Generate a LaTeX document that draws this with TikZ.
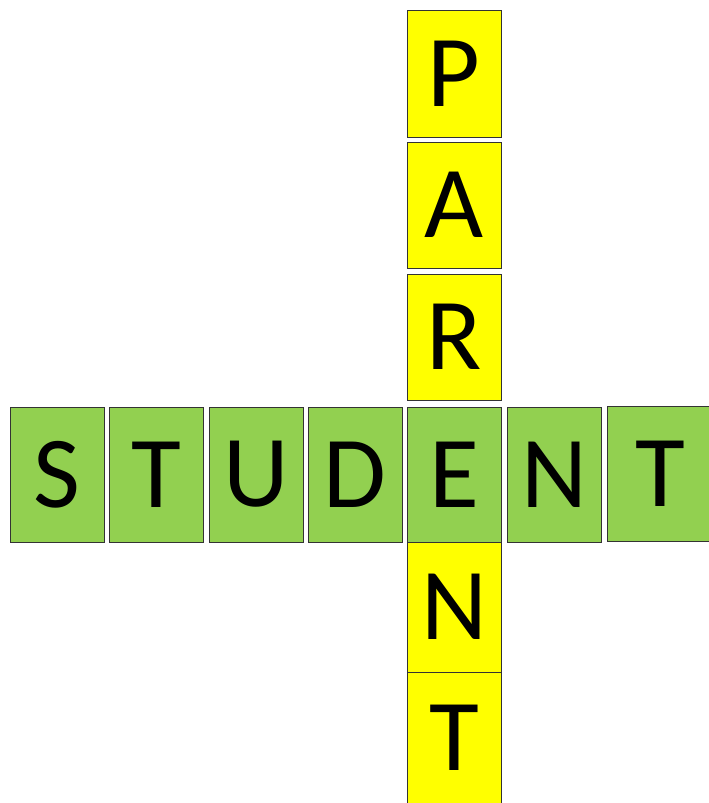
\documentclass[tikz,border=0pt]{standalone}
\usepackage{fontspec}
\setmainfont{Carlito}
\definecolor{tilegreen}{HTML}{92D050}
\definecolor{tileyellow}{HTML}{FFFF00}
\definecolor{tileedge}{HTML}{333333}
\tikzset{
  tile/.style={draw=tileedge, line width=1pt, inner sep=0pt, minimum width=94pt,
    font=\fontsize{102}{102}\selectfont, text=black},
  gtile/.style={tile, fill=tilegreen, minimum height=135pt},
  ytile/.style={tile, fill=tileyellow},
}
\begin{document}
\begin{tikzpicture}[x=1pt,y=-1pt]
\useasboundingbox (0,0) rectangle (709,803);
\clip (0,0) rectangle (709,803);
\fill[white] (0,0) rectangle (709,803);
% horizontal word STUDENT
\node[gtile] (s1) at (57,474.5) {S};
\node[gtile] (t1) at (156.5,474.5) {T};
\node[gtile] (u1) at (256,474.5) {U};
\node[gtile] (d1) at (355,474.5) {D};
\node[gtile] (e1) at (454,474.5) {E};
\node[gtile] (n1) at (554,474.5) {N};
\node[gtile, minimum width=106pt] (t2) at (660,474) {T};
% vertical word PARENT
\node[ytile, minimum height=127pt] (p2) at (454,73.5) {P};
\node[ytile, minimum height=126pt] (a2) at (454,205) {A};
\node[ytile, minimum height=126pt] (r2) at (454,337) {R};
\node[ytile, minimum height=130pt] (n2) at (454,607) {N};
\node[ytile, minimum height=131pt] (t3) at (454,737.5) {T};
\end{tikzpicture}
\end{document}
